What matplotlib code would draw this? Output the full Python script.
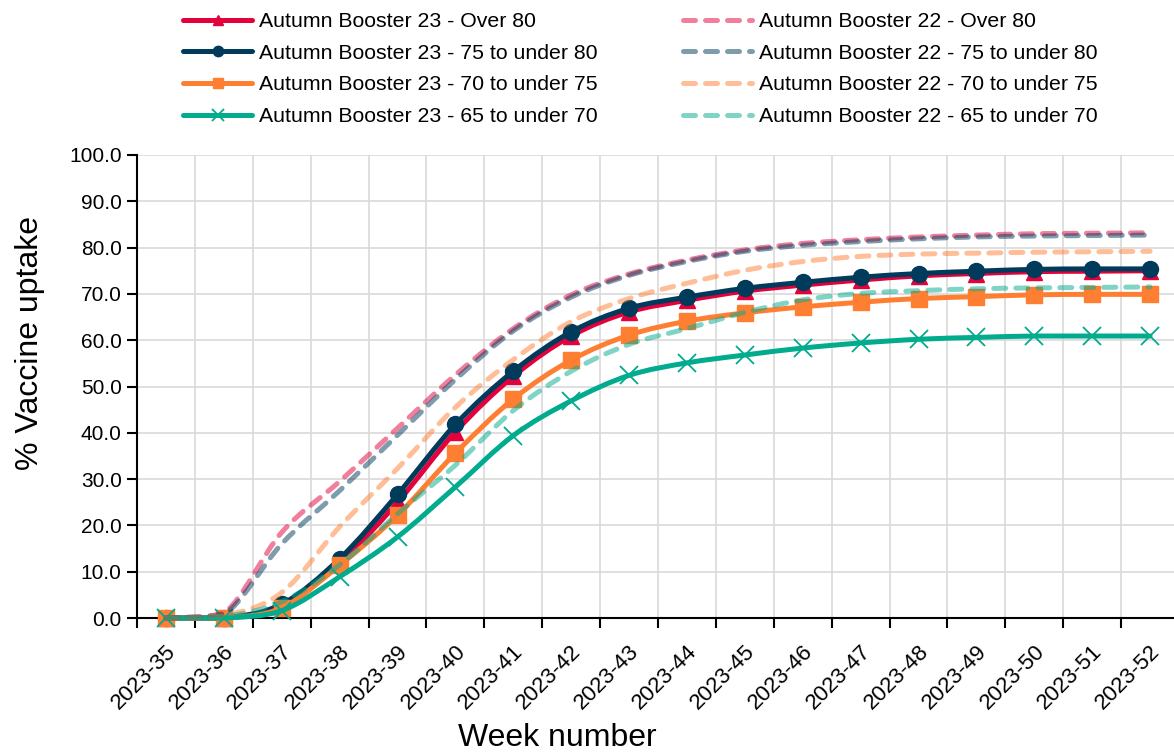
import matplotlib
matplotlib.use('Agg')
import matplotlib.pyplot as plt
import matplotlib.transforms as mtransforms
import numpy as np
from matplotlib.ticker import FixedLocator, MultipleLocator, FormatStrFormatter
from matplotlib.path import Path
from matplotlib.patches import PathPatch
from matplotlib.lines import Line2D

plt.rcParams['font.family'] = ['Liberation Sans', 'DejaVu Sans']

weeks = ['2023-35', '2023-36', '2023-37', '2023-38', '2023-39', '2023-40',
         '2023-41', '2023-42', '2023-43', '2023-44', '2023-45', '2023-46',
         '2023-47', '2023-48', '2023-49', '2023-50', '2023-51', '2023-52']

ab23_over80 = [0, 0, 2.7, 11.8, 25.0, 40.2, 52.2, 60.9, 66.1, 68.6, 70.6, 71.9, 73.0, 73.9, 74.4, 74.8, 74.9, 75.0]
ab23_75_80 = [0, 0, 3.0, 12.8, 26.7, 41.8, 53.3, 61.8, 66.9, 69.3, 71.2, 72.5, 73.6, 74.4, 74.9, 75.3, 75.4, 75.4]
ab23_70_75 = [0, 0, 2.2, 11.4, 22.2, 35.6, 47.3, 55.7, 61.1, 64.1, 65.9, 67.2, 68.2, 69.0, 69.4, 69.8, 69.9, 69.9]
ab23_65_70 = [0, 0, 1.6, 8.9, 17.5, 28.3, 39.4, 46.9, 52.4, 55.1, 56.8, 58.3, 59.4, 60.2, 60.6, 60.9, 60.9, 60.9]

ab22_over80 = [0, 1.0, 18.5, 29.5, 41.0, 52.5, 62.5, 69.8, 74.3, 77.3, 79.5, 80.9, 81.7, 82.3, 82.7, 83.0, 83.1, 83.2]
ab22_75_80 = [0, 0.7, 16.0, 27.5, 39.5, 51.5, 62.0, 69.3, 74.0, 77.0, 79.2, 80.5, 81.3, 81.9, 82.3, 82.5, 82.6, 82.7]
ab22_70_75 = [0, 0.5, 5.5, 19.7, 32.3, 45.5, 55.8, 64.0, 69.0, 72.3, 75.1, 77.0, 78.1, 78.6, 78.8, 79.0, 79.1, 79.2]
ab22_65_70 = [0, 0.3, 3.5, 11.5, 22.5, 33.0, 44.8, 53.3, 59.1, 62.5, 66.0, 68.7, 70.1, 70.7, 71.1, 71.3, 71.4, 71.5]

labels23 = ['Autumn Booster 23 - Over 80', 'Autumn Booster 23 - 75 to under 80',
            'Autumn Booster 23 - 70 to under 75', 'Autumn Booster 23 - 65 to under 70']
labels22 = ['Autumn Booster 22 - Over 80', 'Autumn Booster 22 - 75 to under 80',
            'Autumn Booster 22 - 70 to under 75', 'Autumn Booster 22 - 65 to under 70']

colors = ['#E4003B', '#003B5C', '#FF7F32', '#00AB8E']
markers = ['^', 'o', 's', 'x']
msizes = [11, 11.5, 11.5, 13]
DASH = (0, (2.4, 2.0))
LW = 3.6


def smooth_path(xs, ys):
    """Smoothed Bezier line through the data points (no overshoot)."""
    pts = np.column_stack([xs, ys]).astype(float)
    n = len(pts)
    verts = [pts[0]]
    codes = [Path.MOVETO]
    for i in range(n - 1):
        p0 = pts[i - 1] if i > 0 else pts[i]
        p1 = pts[i]
        p2 = pts[i + 1]
        p3 = pts[i + 2] if i + 2 < n else pts[i + 1]
        c1 = p1 + (p2 - p0) / 6.0
        c2 = p2 - (p3 - p1) / 6.0
        lo, hi = min(p1[1], p2[1]), max(p1[1], p2[1])
        c1[1] = np.clip(c1[1], lo, hi)
        c2[1] = np.clip(c2[1], lo, hi)
        verts += [c1, c2, p2]
        codes += [Path.CURVE4] * 3
    return Path(verts, codes)


W, H = 1174, 753
fig = plt.figure(figsize=(W / 100, H / 100), dpi=100)
ax = fig.add_axes([137 / W, 1 - 618 / H, 1042 / W, 463 / H])

x = np.arange(len(weeks))

series23 = [ab23_over80, ab23_75_80, ab23_70_75, ab23_65_70]
series22 = [ab22_over80, ab22_75_80, ab22_70_75, ab22_65_70]

handles = []
for k, (vals, c, m, ms) in enumerate(zip(series23, colors, markers, msizes)):
    z = 3 + k * 0.1
    ax.add_patch(PathPatch(smooth_path(x, vals), fill=False, edgecolor=c, lw=LW,
                           capstyle='round', joinstyle='round', clip_on=False, zorder=z))
    ax.plot(x, vals, ls='none', marker=m, ms=ms, mew=1.3 if m == 'x' else 1.0,
            mec=c, mfc=c, clip_on=False, zorder=z + 0.05)
    handles.append(Line2D([], [], color=c, lw=LW, marker=m, ms=ms,
                          mew=1.3 if m == 'x' else 1.0, mec=c, mfc=c,
                          solid_capstyle='round'))

for k, (vals, c) in enumerate(zip(series22, colors)):
    z = 4 + k * 0.1
    ax.add_patch(PathPatch(smooth_path(x, vals), fill=False, edgecolor=c, alpha=0.5,
                           lw=LW, ls=DASH, capstyle='round', joinstyle='round',
                           clip_on=False, zorder=z))
    handles.append(Line2D([], [], color=c, alpha=0.5, lw=LW, ls=DASH,
                          dash_capstyle='round'))

ax.set_xlim(-0.5, len(weeks) - 0.5)
ax.set_ylim(0, 100)

ax.xaxis.set_major_locator(FixedLocator(x))
ax.set_xticklabels(weeks)
ax.xaxis.set_minor_locator(FixedLocator(np.arange(len(weeks) + 1) - 0.5))
ax.tick_params(axis='x', which='major', length=0, pad=22, labelsize=16)
ax.tick_params(axis='x', which='minor', length=7, width=1.5, direction='out')
offset = mtransforms.ScaledTranslation(7 / 100, 0, fig.dpi_scale_trans)
for lbl in ax.get_xticklabels():
    lbl.set_rotation(45)
    lbl.set_ha('right')
    lbl.set_va('center')
    lbl.set_rotation_mode('anchor')
    lbl.set_transform(lbl.get_transform() + offset)

ax.yaxis.set_major_locator(MultipleLocator(10))
ax.yaxis.set_major_formatter(FormatStrFormatter('%.1f'))
ax.tick_params(axis='y', which='major', length=7, width=1.5, pad=4, labelsize=15)

ax.grid(True, axis='y', which='major', color='#d9d9d9', lw=1.2)
ax.grid(True, axis='x', which='minor', color='#d9d9d9', lw=1.2)
ax.set_axisbelow(True)

for s in ['top', 'right']:
    ax.spines[s].set_visible(False)
for s in ['left', 'bottom']:
    ax.spines[s].set_linewidth(1.5)
    ax.spines[s].set_color('black')

ax.set_ylabel('% Vaccine uptake', fontsize=23)
ax.yaxis.set_label_coords(-0.088, 0.594)
ax.set_xlabel('Week number', fontsize=23)
ax.xaxis.set_label_coords(0.403, -0.226)

fig.legend(handles, labels23 + labels22, ncol=2, loc='upper left',
           bbox_to_anchor=(183 / W, 1 - 12 / H), frameon=False,
           fontsize=15.3, borderpad=0, borderaxespad=0,
           handlelength=3.25, handletextpad=0.33, columnspacing=4.0,
           labelspacing=0.6, markerscale=0.65, numpoints=1)

fig.savefig('out.png', dpi=100)
